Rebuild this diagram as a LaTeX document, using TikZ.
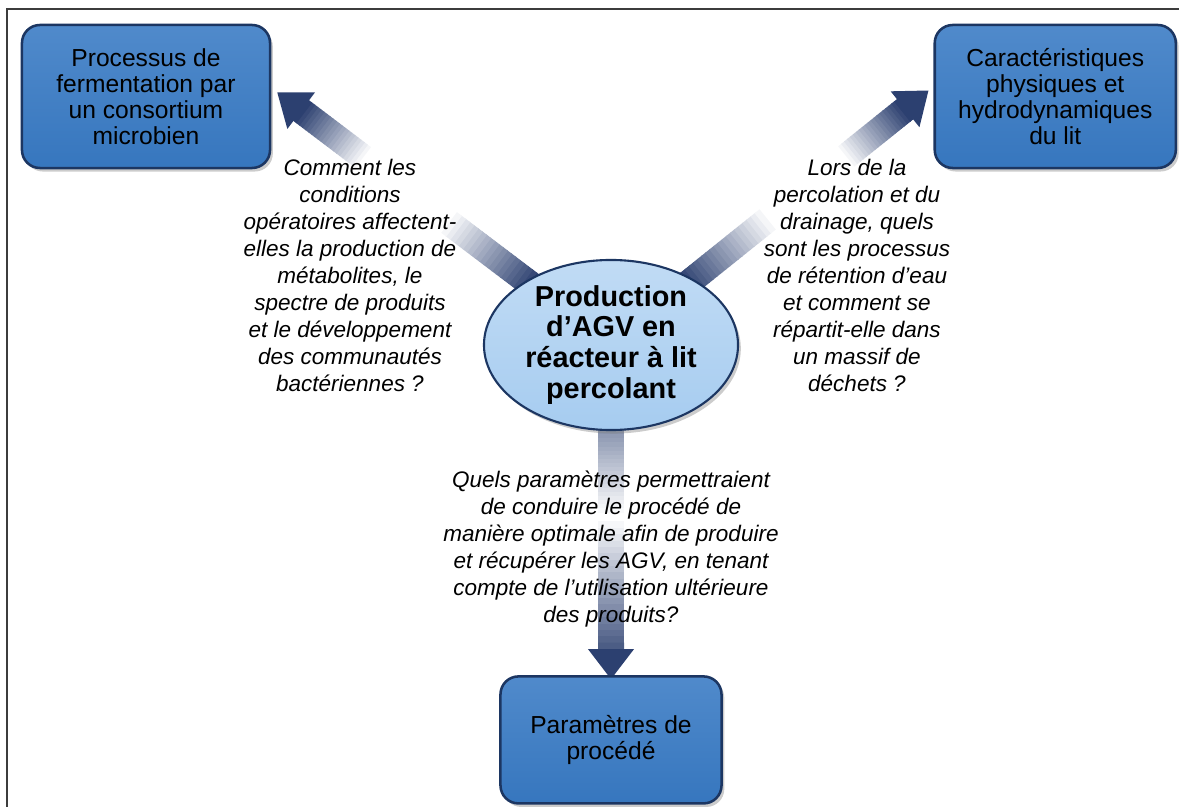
\documentclass[tikz,border=0pt]{standalone}
\usepackage{fontspec}
\setmainfont{Liberation Sans}
\usepackage{xcolor}
\usetikzlibrary{shapes.geometric, positioning, calc, backgrounds, shadows}

\definecolor{boxblue}{RGB}{56,122,196}
\definecolor{boxline}{RGB}{28,54,98}
\definecolor{ellblue}{RGB}{166,204,240}
\definecolor{arrowdark}{RGB}{44,64,112}
\definecolor{framegray}{RGB}{60,60,60}

\begin{document}
\begin{tikzpicture}[x=0.025cm, y=-0.025cm,
        topic/.style={rectangle, draw=boxline, line width=1.8pt, top color=boxblue!88!white, bottom color=boxblue!97!black, rounded corners=0.45cm, align=center, inner sep=0pt, font=\fontsize{17.5}{18.6}\selectfont, drop shadow={shadow xshift=2pt, shadow yshift=-2.5pt, opacity=0.4}},
        core/.style={ellipse, draw=boxline, line width=1.5pt, top color=ellblue!70!white, bottom color=ellblue, minimum width=6.35cm, minimum height=4.25cm, inner sep=0pt, align=center, font=\fontsize{20.5}{22}\selectfont\bfseries, drop shadow={shadow xshift=2pt, shadow yshift=-2.5pt, opacity=0.4}},
        question/.style={align=center, font=\fontsize{16}{19.2}\selectfont\itshape},
        shaft/.style={line width=0.65cm},
        frame/.style={draw=framegray, line width=1.5pt}
    ]
    \useasboundingbox (0,0) rectangle (1179,807);
    \draw[frame] (7,813) |- (1185,9);

    % Central question
    \node (agv) [core] at (611,345) {Production\\d’AGV en\\réacteur à lit\\percolant};

    % Topics
    \node (ferment) [topic, minimum width=6.2cm, minimum height=3.575cm] at (146,96.5) {Processus de\\fermentation par\\un consortium\\microbien};
    \node (bed) [topic, minimum width=6.025cm, minimum height=3.575cm, right=16.55cm of ferment] {Caractéristiques\\physiques et\\hydrodynamiques\\du lit};
    \node (params) [topic, minimum width=5.525cm, minimum height=3.175cm, below=6.1cm of agv] {Paramètres de\\procédé};

    % Questions
    \node (q1) [question] at (350,275) {Comment les\\conditions\\opératoires affectent-\\elles la production de\\métabolites, le\\spectre de produits\\et le développement\\des communautés\\bactériennes ?};
    \node (q2) [question] at (857,275) {Lors de la\\percolation et du\\drainage, quels\\sont les processus\\de rétention d’eau\\et comment se\\répartit-elle dans\\un massif de\\déchets ?};
    \node (q3) [question] at (611,549) {Quels paramètres permettraient\\de conduire le procédé de\\manière optimale afin de produire\\et récupérer les AGV, en tenant\\compte de l’utilisation ultérieure\\des produits?};

    % Arrow tips and head bases
    \coordinate (t1) at ($(ferment.east)+(6,-4)$);
    \coordinate (t2) at ($(bed.west)+(-5,-6)$);
    \coordinate (t3) at ($(params.north)+(0,4)$);
    \foreach \n in {1,2,3}
        \coordinate (h\n) at ($(t\n)!0.75cm!(agv.center)$);

    % Shaded arrows
    \begin{scope}[on background layer]
    \foreach \n/\pk/\ta/\tb/\tc/\pm in {1/100/0.25/0.52/0.8/100, 2/100/0.25/0.53/0.8/100, 3/55/0.28/0.55/0.58/85}{
        \draw[shaft, arrowdark!\pk!white] (agv.center) -- ($(agv.center)!\ta!(h\n)$);
        \foreach \k in {0,...,19}{
            \pgfmathsetmacro\ua{\ta+(\tb-\ta)*\k/20}
            \pgfmathsetmacro\ub{\ta+(\tb-\ta)*(\k+1.2)/20}
            \pgfmathsetmacro\pc{\pk*(1-\k/20)}
            \draw[shaft, arrowdark!\pc!white] ($(agv.center)!\ua!(h\n)$) -- ($(agv.center)!\ub!(h\n)$);
        }
        \foreach \k in {0,...,19}{
            \pgfmathsetmacro\ua{\tc+(1-\tc)*\k/20}
            \pgfmathsetmacro\ub{\tc+(1-\tc)*(\k+1.2)/20}
            \pgfmathsetmacro\pc{\pm*(\k+1)/20}
            \draw[shaft, arrowdark!\pc!white] ($(agv.center)!\ua!(h\n)$) -- ($(agv.center)!\ub!(h\n)$);
        }
        \fill[arrowdark] (t\n) -- ($(h\n)!0.575cm!90:(t\n)$) -- ($(h\n)!0.575cm!-90:(t\n)$) -- cycle;
    }
    \end{scope}
\end{tikzpicture}
\end{document}
